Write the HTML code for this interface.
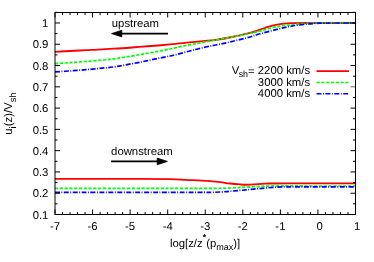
<!DOCTYPE html>
<html><head><meta charset="utf-8"><title>plot</title>
<style>html,body{margin:0;padding:0;background:#fff;}body{width:374px;height:262px;overflow:hidden;font-family:"Liberation Sans",sans-serif;}</style>
</head><body>
<svg width="374" height="262" viewBox="0 0 374 262" style="display:block">
<defs><filter id="idf" x="0" y="0" width="374" height="262" filterUnits="userSpaceOnUse"><feOffset dx="0" dy="0"/></filter></defs>
<rect width="374" height="262" fill="#fff"/>
<g fill="none" stroke-width="1.7" stroke-linejoin="round">
<path d="M55.0,51.8 C57.5,51.7 64.8,51.3 70.0,51.0 C75.2,50.7 80.7,50.5 86.0,50.2 C91.3,49.9 97.3,49.5 102.0,49.3 C106.7,49.0 110.0,48.9 114.0,48.7 C118.0,48.5 121.3,48.3 126.0,48.0 C130.7,47.7 136.7,47.1 142.0,46.7 C147.3,46.3 153.3,45.9 158.0,45.5 C162.7,45.1 167.0,44.7 170.0,44.4 C173.0,44.1 172.3,44.2 176.0,43.8 C179.7,43.4 186.7,42.6 192.0,42.1 C197.3,41.6 204.0,41.0 208.0,40.6 C212.0,40.2 212.0,40.5 216.0,39.9 C220.0,39.3 226.7,38.1 232.0,37.0 C237.3,35.9 243.3,34.6 248.0,33.4 C252.7,32.2 256.7,30.8 260.0,29.7 C263.3,28.6 265.3,27.6 268.0,26.8 C270.7,26.0 273.3,25.3 276.0,24.8 C278.7,24.3 281.3,23.9 284.0,23.6 C286.7,23.3 288.0,23.2 292.0,23.1 C296.0,23.0 297.4,23.0 308.0,23.0 C318.6,23.0 347.6,23.0 355.5,23.0" stroke="#ff0000" stroke-width="1.85"/>
<path d="M55.0,63.7 C57.5,63.5 64.8,63.0 70.0,62.6 C75.2,62.2 80.7,61.9 86.0,61.5 C91.3,61.1 97.3,60.5 102.0,60.1 C106.7,59.7 110.0,59.4 114.0,58.9 C118.0,58.4 121.3,57.8 126.0,57.0 C130.7,56.2 136.7,55.2 142.0,54.3 C147.3,53.3 153.3,52.2 158.0,51.3 C162.7,50.4 167.0,49.6 170.0,49.0 C173.0,48.4 172.3,48.4 176.0,47.6 C179.7,46.8 186.7,45.4 192.0,44.4 C197.3,43.4 204.0,42.1 208.0,41.4 C212.0,40.6 212.0,40.6 216.0,39.9 C220.0,39.2 226.7,38.0 232.0,37.0 C237.3,36.0 243.3,34.8 248.0,33.8 C252.7,32.8 255.3,32.3 260.0,31.1 C264.7,29.9 270.7,27.9 276.0,26.8 C281.3,25.8 286.7,25.4 292.0,24.8 C297.3,24.2 303.3,23.7 308.0,23.4 C312.7,23.1 312.1,23.1 320.0,23.0 C327.9,22.9 349.6,23.0 355.5,23.0" stroke="#00ff00" stroke-dasharray="3.3 1.5"/>
<path d="M55.0,71.9 C57.5,71.7 64.8,71.3 70.0,70.9 C75.2,70.5 80.7,70.2 86.0,69.7 C91.3,69.2 97.3,68.7 102.0,68.2 C106.7,67.7 110.0,67.5 114.0,66.9 C118.0,66.3 121.3,65.7 126.0,64.8 C130.7,63.9 136.7,62.9 142.0,61.8 C147.3,60.7 153.3,59.4 158.0,58.4 C162.7,57.4 167.0,56.6 170.0,56.0 C173.0,55.4 172.3,55.5 176.0,54.6 C179.7,53.7 186.7,51.8 192.0,50.4 C197.3,49.0 204.0,47.4 208.0,46.5 C212.0,45.6 212.0,45.8 216.0,45.0 C220.0,44.2 226.7,42.8 232.0,41.5 C237.3,40.2 243.3,38.8 248.0,37.5 C252.7,36.2 255.3,35.1 260.0,33.8 C264.7,32.5 270.7,30.9 276.0,29.6 C281.3,28.3 286.7,26.9 292.0,26.0 C297.3,25.1 303.3,24.5 308.0,24.0 C312.7,23.5 315.5,23.4 320.0,23.2 C324.5,23.0 329.1,23.0 335.0,23.0 C340.9,23.0 352.1,23.0 355.5,23.0" stroke="#0000ff" stroke-dasharray="5.0 1.5 0.9 1.5"/>
<path d="M55.0,178.8 C67.5,178.8 110.8,178.8 130.0,178.8 C149.2,178.9 160.7,178.9 170.0,179.1 C179.3,179.3 180.7,179.6 186.0,179.8 C191.3,180.1 196.7,180.2 202.0,180.6 C207.3,180.9 213.3,181.4 218.0,181.9 C222.7,182.4 226.3,183.1 230.0,183.5 C233.7,183.9 237.3,184.2 240.0,184.4 C242.7,184.6 243.7,184.7 246.0,184.7 C248.3,184.7 251.3,184.6 254.0,184.4 C256.7,184.2 259.3,184.0 262.0,183.8 C264.7,183.7 265.3,183.6 270.0,183.5 C274.7,183.4 275.8,183.4 290.0,183.4 C304.2,183.4 344.6,183.4 355.5,183.4" stroke="#ff0000" stroke-width="1.85"/>
<path d="M55.0,188.4 C79.2,188.4 170.8,188.5 200.0,188.4 C229.2,188.3 222.3,188.2 230.0,188.0 C237.7,187.8 240.7,187.4 246.0,187.1 C251.3,186.8 256.7,186.5 262.0,186.3 C267.3,186.1 273.3,186.0 278.0,185.9 C282.7,185.8 284.7,185.8 290.0,185.8 C295.3,185.8 299.1,186.0 310.0,186.0 C320.9,186.0 347.9,186.0 355.5,186.0" stroke="#00ff00" stroke-dasharray="3.3 1.5"/>
<path d="M55.0,192.3 C77.5,192.3 163.8,192.4 190.0,192.3 C216.2,192.3 206.7,192.4 212.0,192.3 C217.3,192.2 219.0,192.1 222.0,191.9 C225.0,191.7 226.0,191.5 230.0,191.2 C234.0,190.9 240.7,190.4 246.0,189.9 C251.3,189.4 256.7,188.8 262.0,188.3 C267.3,187.8 273.3,187.3 278.0,187.1 C282.7,186.8 284.7,186.9 290.0,186.8 C295.3,186.8 299.1,186.8 310.0,186.8 C320.9,186.8 347.9,186.8 355.5,186.8" stroke="#0000ff" stroke-dasharray="5.0 1.5 0.9 1.5"/>
<path d="M316.5,71.1 H349" stroke="#ff0000" stroke-width="1.6"/>
<path d="M316.5,82.5 H349" stroke="#00ff00" stroke-width="1.4" stroke-dasharray="3.3 1.5"/>
<path d="M316.5,93.8 H349" stroke="#0000ff" stroke-width="1.4" stroke-dasharray="5.0 1.5 0.9 1.5"/>
</g>
<g stroke="#000" stroke-width="1" fill="none">
<path d="M55.00,214.5 v-5 M55.00,12.5 v5"/>
<path d="M62.51,214.5 v-2.5 M62.51,12.5 v2.5"/>
<path d="M70.03,214.5 v-2.5 M70.03,12.5 v2.5"/>
<path d="M77.54,214.5 v-2.5 M77.54,12.5 v2.5"/>
<path d="M85.05,214.5 v-2.5 M85.05,12.5 v2.5"/>
<path d="M92.56,214.5 v-5 M92.56,12.5 v5"/>
<path d="M100.08,214.5 v-2.5 M100.08,12.5 v2.5"/>
<path d="M107.59,214.5 v-2.5 M107.59,12.5 v2.5"/>
<path d="M115.10,214.5 v-2.5 M115.10,12.5 v2.5"/>
<path d="M122.61,214.5 v-2.5 M122.61,12.5 v2.5"/>
<path d="M130.12,214.5 v-5 M130.12,12.5 v5"/>
<path d="M137.64,214.5 v-2.5 M137.64,12.5 v2.5"/>
<path d="M145.15,214.5 v-2.5 M145.15,12.5 v2.5"/>
<path d="M152.66,214.5 v-2.5 M152.66,12.5 v2.5"/>
<path d="M160.18,214.5 v-2.5 M160.18,12.5 v2.5"/>
<path d="M167.69,214.5 v-5 M167.69,12.5 v5"/>
<path d="M175.20,214.5 v-2.5 M175.20,12.5 v2.5"/>
<path d="M182.71,214.5 v-2.5 M182.71,12.5 v2.5"/>
<path d="M190.22,214.5 v-2.5 M190.22,12.5 v2.5"/>
<path d="M197.74,214.5 v-2.5 M197.74,12.5 v2.5"/>
<path d="M205.25,214.5 v-5 M205.25,12.5 v5"/>
<path d="M212.76,214.5 v-2.5 M212.76,12.5 v2.5"/>
<path d="M220.28,214.5 v-2.5 M220.28,12.5 v2.5"/>
<path d="M227.79,214.5 v-2.5 M227.79,12.5 v2.5"/>
<path d="M235.30,214.5 v-2.5 M235.30,12.5 v2.5"/>
<path d="M242.81,214.5 v-5 M242.81,12.5 v5"/>
<path d="M250.32,214.5 v-2.5 M250.32,12.5 v2.5"/>
<path d="M257.84,214.5 v-2.5 M257.84,12.5 v2.5"/>
<path d="M265.35,214.5 v-2.5 M265.35,12.5 v2.5"/>
<path d="M272.86,214.5 v-2.5 M272.86,12.5 v2.5"/>
<path d="M280.38,214.5 v-5 M280.38,12.5 v5"/>
<path d="M287.89,214.5 v-2.5 M287.89,12.5 v2.5"/>
<path d="M295.40,214.5 v-2.5 M295.40,12.5 v2.5"/>
<path d="M302.91,214.5 v-2.5 M302.91,12.5 v2.5"/>
<path d="M310.43,214.5 v-2.5 M310.43,12.5 v2.5"/>
<path d="M317.94,214.5 v-5 M317.94,12.5 v5"/>
<path d="M325.45,214.5 v-2.5 M325.45,12.5 v2.5"/>
<path d="M332.96,214.5 v-2.5 M332.96,12.5 v2.5"/>
<path d="M340.48,214.5 v-2.5 M340.48,12.5 v2.5"/>
<path d="M347.99,214.5 v-2.5 M347.99,12.5 v2.5"/>
<path d="M355.50,214.5 v-5 M355.50,12.5 v5"/>
<path d="M55.0,214.50 h5"/>
<path d="M355.5,214.50 h-5"/>
<path d="M55.0,203.86 h2.5"/>
<path d="M355.5,203.86 h-2.5"/>
<path d="M55.0,193.22 h5"/>
<path d="M355.5,193.22 h-5"/>
<path d="M55.0,182.58 h2.5"/>
<path d="M355.5,182.58 h-2.5"/>
<path d="M55.0,171.94 h5"/>
<path d="M355.5,171.94 h-5"/>
<path d="M55.0,161.30 h2.5"/>
<path d="M355.5,161.30 h-2.5"/>
<path d="M55.0,150.66 h5"/>
<path d="M355.5,150.66 h-5"/>
<path d="M55.0,140.02 h2.5"/>
<path d="M355.5,140.02 h-2.5"/>
<path d="M55.0,129.38 h5"/>
<path d="M355.5,129.38 h-5"/>
<path d="M55.0,118.74 h2.5"/>
<path d="M355.5,118.74 h-2.5"/>
<path d="M55.0,108.10 h5"/>
<path d="M355.5,108.10 h-5"/>
<path d="M55.0,97.46 h2.5"/>
<path d="M355.5,97.46 h-2.5"/>
<path d="M55.0,86.82 h5"/>
<path d="M355.5,86.82 h-5" stroke="#666"/>
<path d="M55.0,76.18 h2.5"/>
<path d="M355.5,76.18 h-2.5"/>
<path d="M55.0,65.54 h5"/>
<path d="M355.5,65.54 h-5"/>
<path d="M55.0,54.90 h2.5"/>
<path d="M355.5,54.90 h-2.5"/>
<path d="M55.0,44.26 h5"/>
<path d="M355.5,44.26 h-5"/>
<path d="M55.0,33.62 h2.5"/>
<path d="M355.5,33.62 h-2.5"/>
<path d="M55.0,22.98 h5"/>
<path d="M355.5,22.98 h-5"/>
<path d="M55.0,12.34 h2.5"/>
<path d="M355.5,12.34 h-2.5"/>
</g>
<rect x="55.0" y="12.5" width="300.5" height="202.0" fill="none" stroke="#000" stroke-width="1"/>
<g stroke="#000" stroke-width="1.6" fill="#000" stroke-linejoin="miter">
<path d="M168,33.6 H120" fill="none"/><path d="M111.6,33.6 l10.2,-3.3 v6.6 z" stroke-width="0.8"/>
<path d="M111.1,161.4 H160" fill="none"/><path d="M167.4,161.4 l-10.2,-3.3 v6.6 z" stroke-width="0.8"/>
</g>
<g font-family="'Liberation Sans', sans-serif" font-size="11.33px" fill="#000" filter="url(#idf)" text-rendering="geometricPrecision">
<text x="48.4" y="218.6" text-anchor="end">0.1</text>
<text x="48.4" y="197.3" text-anchor="end">0.2</text>
<text x="48.4" y="176.0" text-anchor="end">0.3</text>
<text x="48.4" y="154.8" text-anchor="end">0.4</text>
<text x="48.4" y="133.5" text-anchor="end">0.5</text>
<text x="48.4" y="112.2" text-anchor="end">0.6</text>
<text x="48.4" y="90.9" text-anchor="end">0.7</text>
<text x="48.4" y="69.6" text-anchor="end">0.8</text>
<text x="48.4" y="48.4" text-anchor="end">0.9</text>
<text x="48.4" y="27.1" text-anchor="end">1</text>
<text x="55.0" y="229.7" text-anchor="middle">-7</text>
<text x="92.6" y="229.7" text-anchor="middle">-6</text>
<text x="130.1" y="229.7" text-anchor="middle">-5</text>
<text x="167.7" y="229.7" text-anchor="middle">-4</text>
<text x="205.2" y="229.7" text-anchor="middle">-3</text>
<text x="242.8" y="229.7" text-anchor="middle">-2</text>
<text x="280.4" y="229.7" text-anchor="middle">-1</text>
<text x="319.6" y="229.7" text-anchor="middle">0</text>
<text x="357.2" y="229.7" text-anchor="middle">1</text>
<text x="111.8" y="26.7">upstream</text>
<text x="111.1" y="155.3">downstream</text>
<text x="310.1" y="73.9" text-anchor="end">V<tspan font-size="8.9px" dx="-0.7" dy="3">sh</tspan><tspan dy="-2">=</tspan><tspan dy="-1"> 2200 km/s</tspan></text>
<text x="310.1" y="85.9" text-anchor="end">3000 km/s</text>
<text x="310.1" y="97.0" text-anchor="end">4000 km/s</text>
<text x="169.9" y="246.6">log[z/z<tspan font-size="8.5px" dx="0.1" dy="-6.7" stroke="#000" stroke-width="0.3">*</tspan><tspan dx="0.1" dy="6.7">(p</tspan><tspan font-size="9px" dy="3.6">max</tspan><tspan dy="-3.6">)]</tspan></text>
<text transform="translate(12.0,134.7) rotate(-90)">u<tspan font-size="9.4px" dy="3.8">i</tspan><tspan dy="-3.8">(z)/V</tspan><tspan font-size="9.4px" dy="3.8">sh</tspan></text>
</g>
</svg>
</body></html>
